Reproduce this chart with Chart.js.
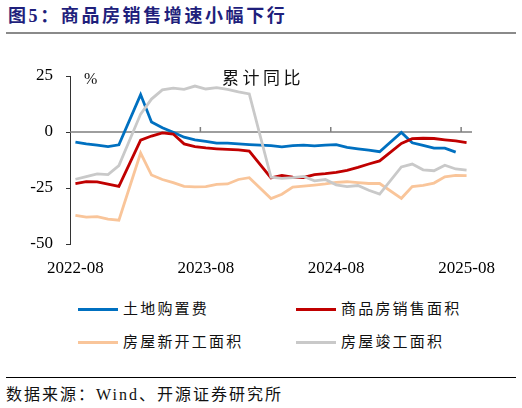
<!DOCTYPE html>
<html>
<head>
<meta charset="utf-8">
<script src="https://cdn.jsdelivr.net/npm/chart.js@4/dist/chart.umd.min.js"></script>
<style>
  body { margin: 0; width: 522px; height: 408px; background: #fff; position: relative; overflow: hidden;
         font-family: "Liberation Serif", "Noto Sans CJK SC", serif; }
  .abs { position: absolute; white-space: nowrap; }
  #title { left: 8px; top: 4px; line-height: 24px; font-size: 18px; font-weight: bold; color: #1f1f7c; letter-spacing: 2.6px; }
  #rule { left: 6px; top: 32px; width: 510px; height: 2px; background: #8a8a8a; }
  #chart { left: 0; top: 40px; }
  .note { font-size: 17px; color: #111; }
  .leg { font-size: 15px; color: #111; line-height: 18px; letter-spacing: 2.2px; }
  .swatch { position: absolute; width: 40px; height: 3px; }
  #foot-rule { left: 6px; top: 377px; width: 510px; height: 1px; background: #000; }
  #foot { left: 6px; top: 386px; font-size: 16px; line-height: 18px; color: #111; letter-spacing: 2px; }
</style>
</head>
<body>
<div id="title" class="abs">图5：商品房销售增速小幅下行</div>
<div id="rule" class="abs"></div>
<canvas id="chart" class="abs" width="522" height="245"></canvas>
<div class="abs note" style="left:84px; top:70px; font-size:16px;">%</div>
<div class="abs note" style="left:222px; top:64px; letter-spacing:3.5px;">累计同比</div>
<div id="legend"></div>
<div id="foot-rule" class="abs"></div>
<div id="foot" class="abs">数据来源：Wind、开源证券研究所</div>
<script>
// months, Jan is not published (Jan-Feb combined), so it stays empty
var months = [
    '2022-08','2022-09','2022-10','2022-11','2022-12',
    '2023-01','2023-02','2023-03','2023-04','2023-05','2023-06','2023-07','2023-08','2023-09','2023-10','2023-11','2023-12',
    '2024-01','2024-02','2024-03','2024-04','2024-05','2024-06','2024-07','2024-08','2024-09','2024-10','2024-11','2024-12',
    '2025-01','2025-02','2025-03','2025-04','2025-05','2025-06','2025-07','2025-08'
];

var landPurchase = [-4.5,-5.3,-5.9,-6.5,-5.7, null,16.7,4.5,1.9,-0.1,-2.3,-3.5,-4.2,-5.0,-5.0,-5.3,-5.6,
    null,-6.1,-6.6,-6.1,-5.9,-6.2,-5.9,-5.6,-6.9,-7.5,-8.1,-8.8, null,-0.2,-4.8,-6.0,-7.2,-7.2,-9.0, null];
var salesArea = [-23.0,-22.2,-22.3,-23.3,-24.3, null,-3.6,-1.8,-0.4,-0.9,-5.3,-6.5,-7.1,-7.5,-7.8,-8.0,-8.5,
    null,-20.5,-19.4,-20.2,-20.3,-19.0,-18.6,-18.0,-17.1,-15.8,-14.3,-12.9, null,-5.1,-3.0,-2.8,-2.9,-3.5,-4.0,-4.7];
var newStarts = [-37.2,-38.0,-37.8,-38.9,-39.4, null,-9.4,-19.2,-21.2,-22.6,-24.3,-24.5,-24.4,-23.4,-23.2,-21.2,-20.4,
    null,-29.7,-27.8,-24.6,-24.2,-23.7,-23.2,-22.5,-22.2,-22.6,-23.0,-23.0, null,-29.6,-24.4,-23.8,-22.8,-20.0,-19.4,-19.5];
var completions = [-21.1,-19.9,-18.7,-19.0,-15.0, null,8.0,14.7,18.8,19.6,19.0,20.5,19.2,19.8,19.0,17.9,17.0,
    null,-20.2,-20.7,-20.4,-19.8,-21.8,-21.2,-23.6,-24.4,-23.9,-26.0,-27.7, null,-15.6,-14.3,-16.9,-17.3,-14.8,-16.5,-17.0];

var seriesNames = ['土地购置费', '商品房销售面积', '房屋新开工面积', '房屋竣工面积'];
var seriesData = [landPurchase, salesArea, newStarts, completions];
var yTicks = [-50, -25, 0, 25];

var colors = ['#0070c0', '#c00000', '#f9c59a', '#c9c9c9'];

// zero line with the yearly tick marks sitting on it
var zeroLine = {
    id: 'zeroLine',
    beforeDatasetsDraw: function(chart) {
        var ctx = chart.ctx, area = chart.chartArea;
        var x = chart.scales.x, y0 = chart.scales.y.getPixelForValue(0);
        ctx.save();
        ctx.strokeStyle = '#7f7f7f';
        ctx.lineWidth = 1.5;
        ctx.beginPath();
        ctx.moveTo(area.left, y0);
        ctx.lineTo(area.right, y0);
        for (var i = 12; i < months.length; i += 12) {
            var xb = (x.getPixelForValue(i - 1) + x.getPixelForValue(i)) / 2;
            ctx.moveTo(xb, y0);
            ctx.lineTo(xb, y0 - 5);
        }
        ctx.stroke();
        ctx.restore();
    }
};

var config = {
    type: 'line',
    data: {
        labels: months,
        datasets: seriesData.map(function(d, i) {
            return {
                label: seriesNames[i],
                data: d,
                borderColor: colors[i],
                backgroundColor: colors[i],
                borderWidth: 2.8,
                pointRadius: 0,
                tension: 0,
                spanGaps: true,
                order: 3 - i
            };
        })
    },
    options: {
        responsive: false,
        animation: false,
        layout: { padding: { top: 36, right: 50, bottom: 0, left: 0 } },
        plugins: { legend: { display: false }, tooltip: { enabled: false } },
        scales: {
            x: {
                type: 'category',
                offset: true,
                grid: { display: false, drawTicks: false },
                border: { display: false },
                afterFit: function(s) { s.height = 41; },
                ticks: {
                    autoSkip: false,
                    maxRotation: 0,
                    padding: 14,
                    color: '#000',
                    font: { family: 'Liberation Serif', size: 17 },
                    callback: function(v, i) { return i % 12 === 0 ? months[i] : ''; }
                }
            },
            y: {
                min: -50,
                max: 25,
                afterFit: function(s) { s.width = 70; },
                afterBuildTicks: function(s) { s.ticks = yTicks.map(function(v) { return { value: v }; }); },
                grid: { drawOnChartArea: false, tickLength: 4, color: '#333' },
                border: { display: true, color: '#333', width: 1 },
                ticks: {
                    padding: 13,
                    color: '#000',
                    font: { family: 'Liberation Serif', size: 17 }
                }
            }
        }
    },
    plugins: [zeroLine]
};

// two column legend below the chart
var legend = document.getElementById('legend');
var legX = [78, 296], legY = [309, 342];
seriesNames.forEach(function(name, i) {
    var cx = legX[i % 2], cy = legY[Math.floor(i / 2)];
    var sw = document.createElement('div');
    sw.className = 'swatch';
    sw.style.left = cx + 'px';
    sw.style.top = (cy - 1.5) + 'px';
    sw.style.background = colors[i];
    legend.appendChild(sw);
    var tx = document.createElement('div');
    tx.className = 'abs leg';
    tx.style.left = (cx + 45) + 'px';
    tx.style.top = (cy - 9) + 'px';
    tx.textContent = name;
    legend.appendChild(tx);
});

window.onload = function() {
    var c = document.getElementById('chart').getContext('2d');
    window.myLine = new Chart(c, config);
};
</script>
</body>
</html>
